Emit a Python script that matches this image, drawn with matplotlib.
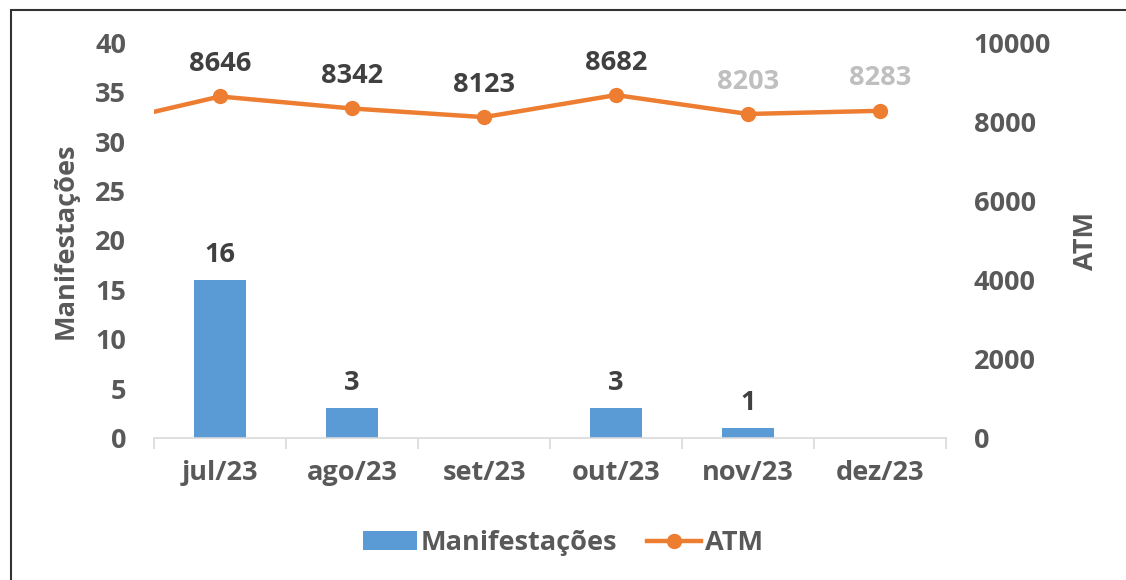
import matplotlib.pyplot as plt
from matplotlib.patches import Rectangle

plt.rcParams['font.family'] = ['Open Sans', 'DejaVu Sans']
plt.rcParams['font.weight'] = 'bold'
plt.rcParams['axes.labelweight'] = 'bold'

meses = ['jul/23', 'ago/23', 'set/23', 'out/23', 'nov/23', 'dez/23']
manifestacoes = [16, 3, 0, 3, 1, 0]
atm = [8646, 8342, 8123, 8682, 8203, 8283]
atm_jun = 7870  # mês anterior, só aparece como início da linha
atm_label_cores = ['#404040', '#404040', '#404040', '#404040', '#BFBFBF', '#BFBFBF']

texto = '#595959'
azul = '#5B9BD5'
laranja = '#ED7D31'
fs = 19.5

fig = plt.figure(figsize=(11.26, 5.8), dpi=100)
ax = fig.add_axes([154 / 1126, 1 - 438 / 580, 792 / 1126, 395 / 580])
ax2 = ax.twinx()

x = list(range(len(meses)))
ax.bar(x, manifestacoes, width=0.4, color=azul, label='Manifestações', zorder=2)
for xi, v in zip(x, manifestacoes):
    if v > 0:
        ax.annotate(str(v), (xi, v), xytext=(0, 9), textcoords='offset points',
                    ha='center', va='bottom', fontsize=fs, fontweight='bold', color='#404040')

ax2.plot([-1] + x, [atm_jun] + atm, color=laranja, lw=3.2, marker='o', ms=10,
         markevery=list(range(1, len(x) + 1)), label='ATM', zorder=3)
for xi, v, c in zip(x, atm, atm_label_cores):
    ax2.annotate(str(v), (xi, v), xytext=(0, 14), textcoords='offset points',
                 ha='center', va='bottom', fontsize=fs, fontweight='bold', color=c)

ax.set_xlim(-0.5, 5.5)
ax.set_ylim(0, 40)
ax2.set_ylim(0, 10000)
ax.set_yticks(range(0, 41, 5))
ax2.set_yticks(range(0, 10001, 2000))

ax.set_xticks([i - 0.5 for i in range(len(meses) + 1)])
ax.set_xticklabels([])
ax.set_xticks(x, minor=True)
ax.set_xticklabels(meses, minor=True, fontweight='bold')
ax.tick_params(axis='x', which='major', length=8, color='#D9D9D9', width=1.2)
ax.tick_params(axis='x', which='minor', length=0, pad=16, labelsize=fs, labelcolor=texto)
ax.tick_params(axis='y', length=0, pad=20, labelsize=fs, labelcolor=texto)
ax2.tick_params(axis='y', length=0, pad=20, labelsize=fs, labelcolor=texto)
for lab in ax.get_yticklabels() + ax2.get_yticklabels():
    lab.set_fontweight('bold')

for a in (ax, ax2):
    for s in ('top', 'left', 'right'):
        a.spines[s].set_visible(False)
    a.spines['bottom'].set_color('#D9D9D9')
    a.spines['bottom'].set_linewidth(1.2)
ax2.spines['bottom'].set_visible(False)

ax.set_ylabel('Manifestações', fontsize=fs, fontweight='bold', color=texto, labelpad=12)
ax2.set_ylabel('ATM', fontsize=fs, fontweight='bold', color=texto, labelpad=16)

h1, l1 = ax.get_legend_handles_labels()
h2, l2 = ax2.get_legend_handles_labels()
fig.legend(h1 + h2, l1 + l2, loc='center', bbox_to_anchor=(0.5, 1 - 543 / 580),
           ncol=2, frameon=False, labelcolor=texto,
           prop={'size': fs, 'weight': 'bold'},
           handlelength=2.0, handleheight=0.65, handletextpad=0.15, columnspacing=1.1)

fig.patches.append(Rectangle((11 / 1126, -0.1), 1.2, 1 - 10 / 580 + 0.1,
                             transform=fig.transFigure, fill=False,
                             edgecolor='#333333', lw=1.5))

fig.savefig('out.png', dpi=100)
